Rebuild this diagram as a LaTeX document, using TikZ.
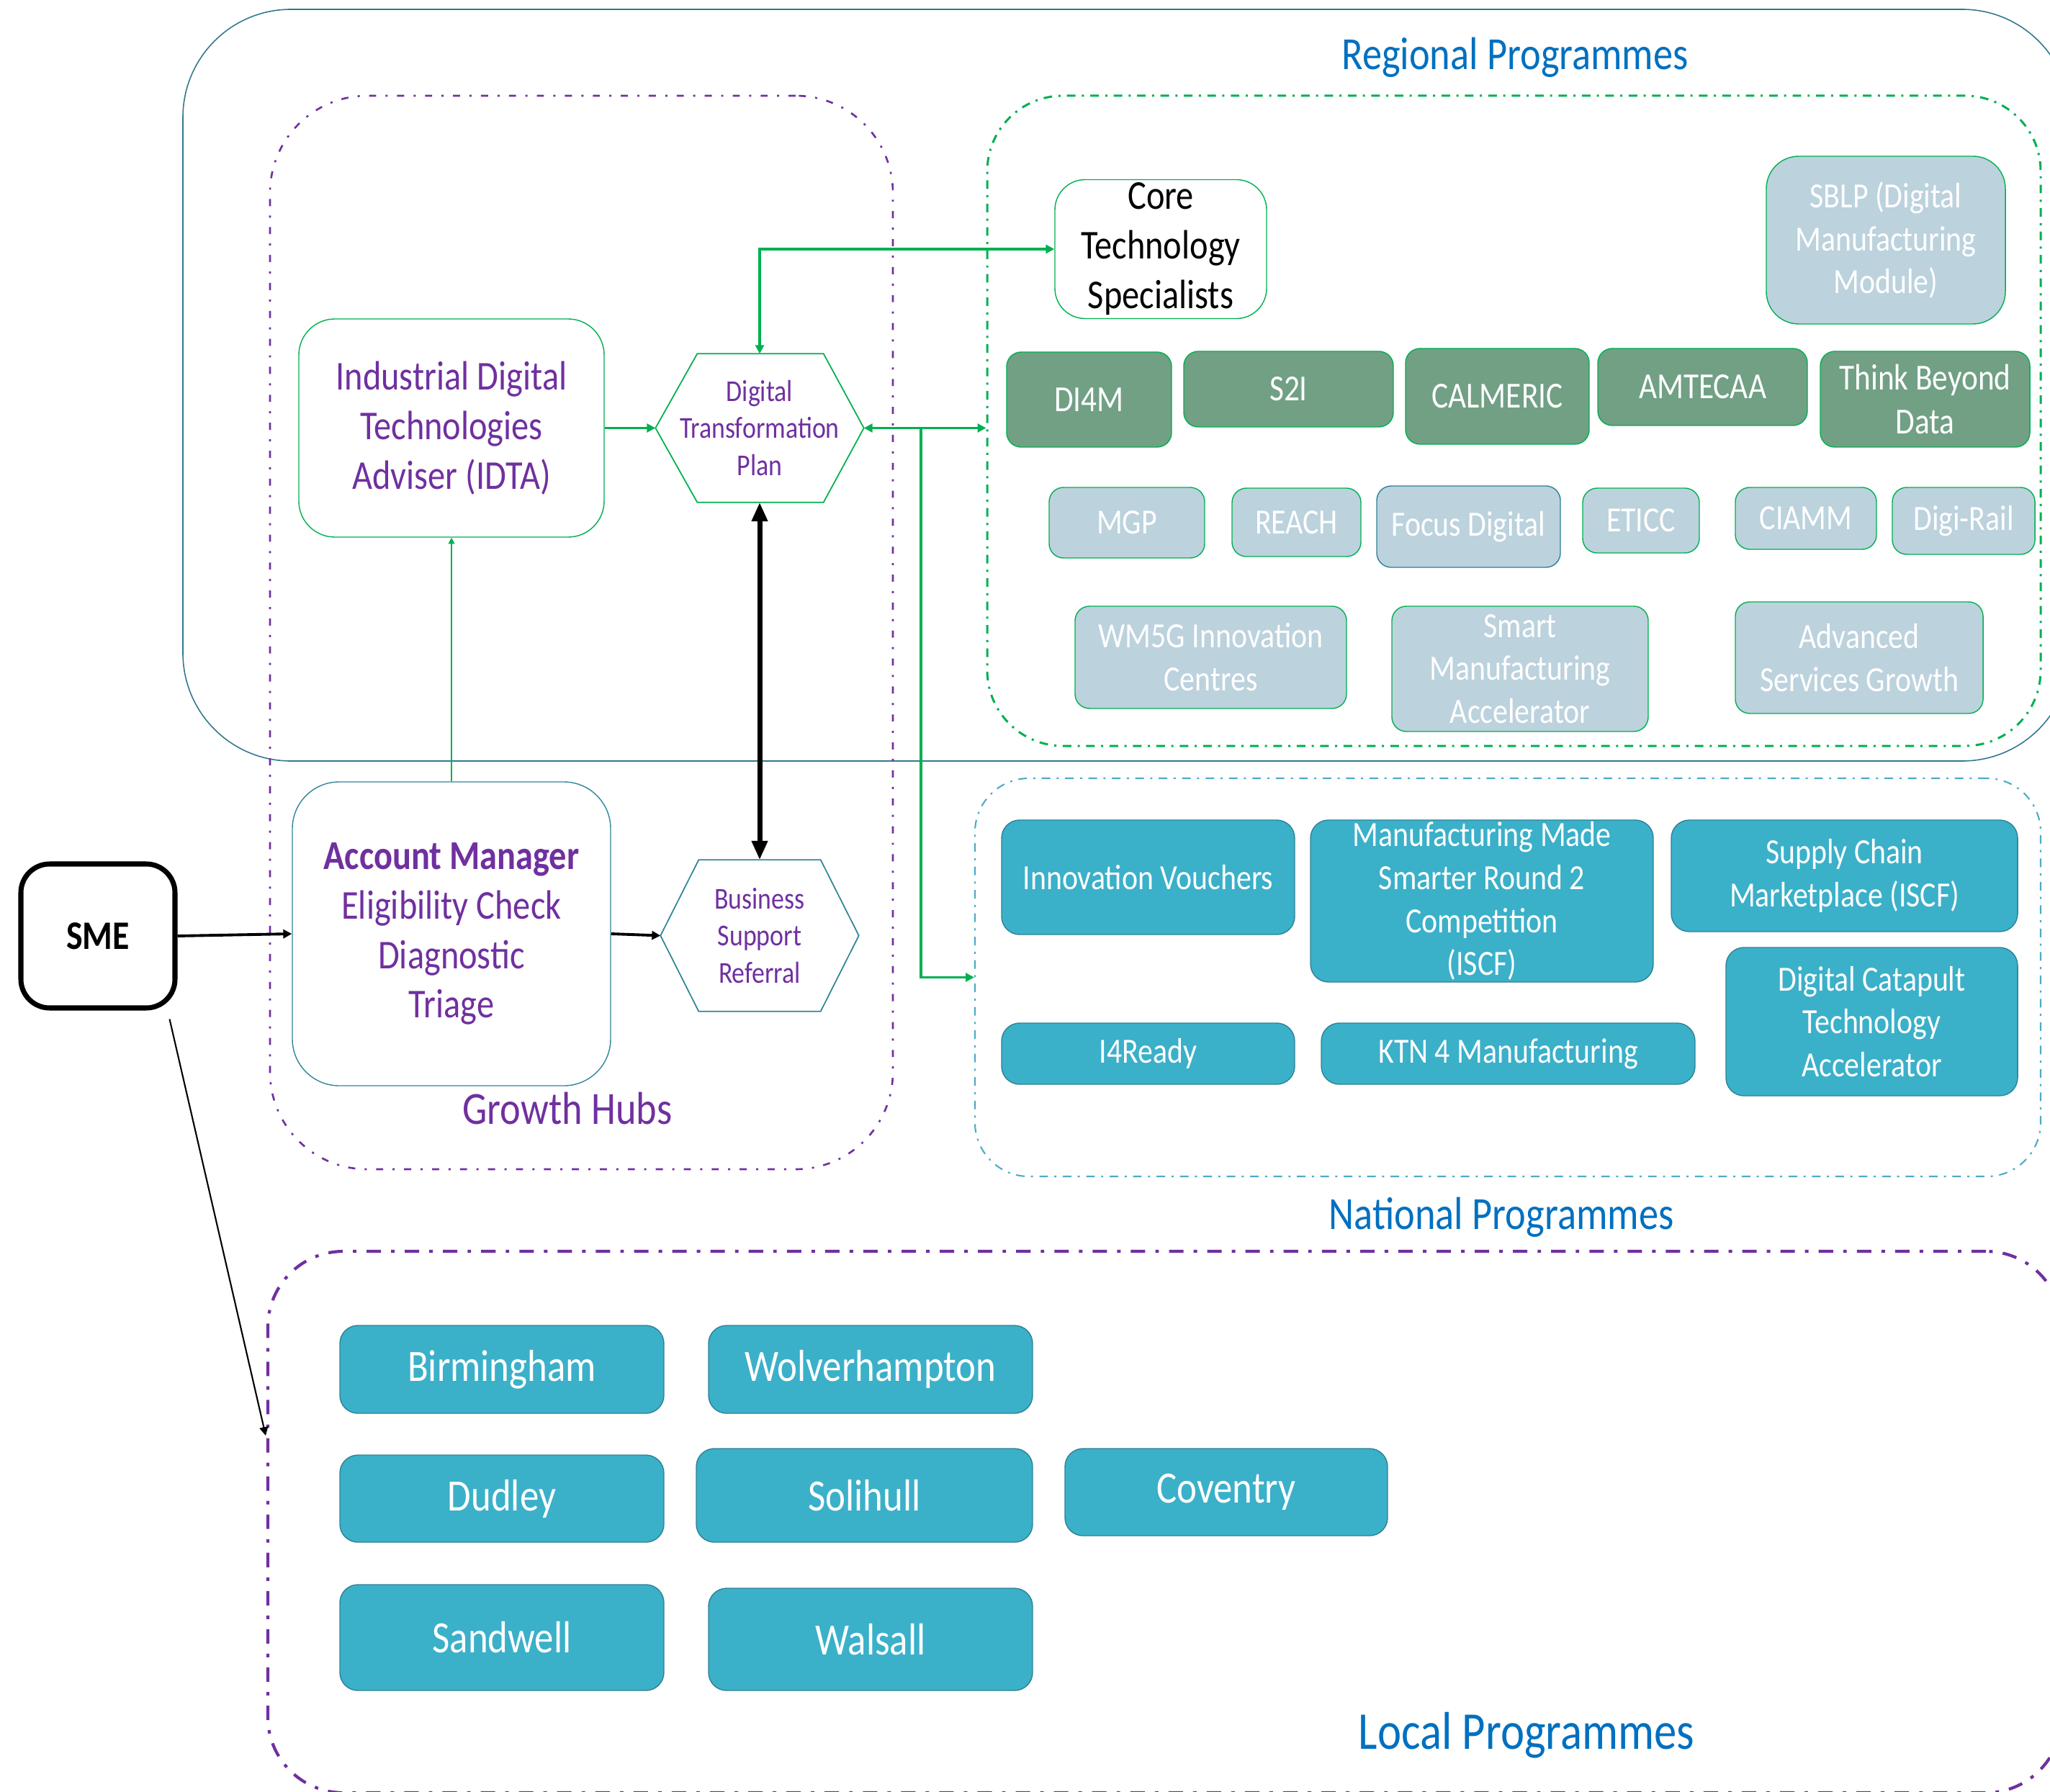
\documentclass[tikz,border=0pt]{standalone}
\usepackage{fontspec}
\setmainfont{Carlito}[FakeStretch=0.85]
\usetikzlibrary{arrows.meta}
\definecolor{hubpurple}{RGB}{112,48,160}
\definecolor{titleblue}{RGB}{0,112,192}
\definecolor{regteal}{RGB}{49,120,140}
\definecolor{progreen}{RGB}{0,176,80}
\definecolor{natdash}{RGB}{75,172,198}
\definecolor{sagefill}{RGB}{113,160,133}
\definecolor{mistfill}{RGB}{188,210,221}
\definecolor{natfill}{RGB}{59,176,201}
\definecolor{natedge}{RGB}{46,130,150}
\definecolor{amedge}{RGB}{49,133,155}

\begin{document}
\begin{tikzpicture}[
  >={Triangle[length=3.4pt,width=3.4pt]},
  dims/.style 2 args={minimum width=#1cm,minimum height=#2cm},
  zonebox/.style={inner sep=0pt},
  hubzone/.style={zonebox,draw=hubpurple,line width=0.75pt,
              dash pattern=on 2.8pt off 3.7pt on 0.85pt off 3.7pt,rounded corners=1.35cm},
  regzone/.style={zonebox,draw=progreen,line width=0.85pt,
              dash pattern=on 3.4pt off 2.5pt on 0.85pt off 2.5pt,rounded corners=1.05cm},
  natzone/.style={zonebox,draw=natdash,line width=0.6pt,
              dash pattern=on 3.4pt off 2.5pt on 0.85pt off 2.5pt,rounded corners=0.75cm},
  localzone/.style={zonebox,draw=hubpurple,line width=1.2pt,
              dash pattern=on 5.7pt off 4pt on 1.4pt off 4pt,rounded corners=1.05cm},
  title/.style={text=titleblue,font=\fontsize{18.2}{22}\selectfont},
  hubbox/.style={draw=progreen,fill=white,text=hubpurple,rounded corners=0.5cm,
              align=center,inner sep=1pt,font=\fontsize{16.2}{19.6}\selectfont},
  hexnode/.style={inner sep=0pt,text=hubpurple,align=center,font=\fontsize{12}{14.6}\selectfont},
  sage/.style={draw=progreen,fill=sagefill,text=white,rounded corners=0.2cm,
              align=center,inner sep=0.5pt,font=\fontsize{14.5}{17.5}\selectfont},
  mist/.style={draw=progreen,fill=mistfill,text=white,rounded corners=0.2cm,
              align=center,inner sep=0.5pt,font=\fontsize{14}{17}\selectfont},
  natbox/.style={draw=natedge,fill=natfill,text=white,rounded corners=0.25cm,
              align=center,inner sep=0.5pt,font=\fontsize{14}{17}\selectfont},
  citybox/.style={natbox,font=\fontsize{17.7}{21}\selectfont},
  greenlink/.style={progreen,line width=0.95pt},
  blacklink/.style={black,line width=1.1pt}
]
  \useasboundingbox (0,0) rectangle (28.47,-24.89);
  \clip (0,0) rectangle (28.47,-24.89);

  % programme zones
  \node[zonebox,draw=regteal,line width=0.45pt,rounded corners=1.5cm,dims={26.21}{10.44}] (regional) at (15.645,-5.35) {};
  \node[hubzone,dims={8.65}{14.91}] (hubs) at (8.075,-8.785) {};
  \node[regzone,dims={14.63}{9.03}] (reginner) at (21.025,-5.845) {};
  \node[natzone,dims={14.80}{5.53}] (national) at (20.94,-13.575) {};
  \node[localzone,dims={24.91}{7.52}] (local) at (16.175,-21.14) {};

  \node[title] (regtitle) at (21.04,-0.80) {Regional Programmes};
  \node[title] (nattitle) at (20.85,-16.91) {National Programmes};
  \node[title,font=\fontsize{21}{25}\selectfont] (loctitle) at (21.20,-24.10) {Local Programmes};
  \node[text=hubpurple,font=\fontsize{18.2}{22}\selectfont] (hubtitle) at (7.88,-15.40) {Growth Hubs};

  % growth hub
  \node[draw=black,line width=2pt,rounded corners=0.4cm,dims={2.14}{2.00},
        font=\fontsize{16}{19}\selectfont\bfseries] (sme) at (1.36,-13.00) {SME};
  \node[hubbox,draw=amedge,rounded corners=0.65cm,dims={4.42}{4.22}] (am) at (6.27,-12.97)
       {{\bfseries Account Manager}\\Eligibility Check\\Diagnostic\\Triage};
  \node[hubbox,dims={4.24}{3.03}] (idta) at (6.27,-5.945) {Industrial Digital\\Technologies\\Adviser (IDTA)};

  \node[hexnode,dims={2.88}{2.05}] (dtp) at (10.55,-5.945) {Digital\\Transformation\\Plan};
  \draw[progreen,line width=0.5pt] (dtp.west) -- ([xshift=5.8mm]dtp.north west) -- ([xshift=-5.6mm]dtp.north east)
     -- (dtp.east) -- ([xshift=-5.6mm]dtp.south east) -- ([xshift=5.8mm]dtp.south west) -- cycle;
  \node[hexnode,dims={2.74}{2.09}] (bsr) at (10.55,-12.995) {Business\\Support\\Referral};
  \draw[amedge,line width=0.5pt] (bsr.west) -- ([xshift=5.3mm]bsr.north west) -- ([xshift=-5.3mm]bsr.north east)
     -- (bsr.east) -- ([xshift=-5.3mm]bsr.south east) -- ([xshift=5.3mm]bsr.south west) -- cycle;

  % regional
  \node[hubbox,text=black,rounded corners=0.42cm,dims={2.94}{1.93}] (core) at (16.12,-3.46) {Core\\Technology\\Specialists};
  \node[mist,rounded corners=0.45cm,dims={3.32}{2.33}] (sblp) at (26.19,-3.335) {SBLP (Digital\\Manufacturing\\Module)};

  \node[sage,dims={2.29}{1.32}] (di4m) at (15.125,-5.55) {DI4M};
  \node[sage,dims={2.91}{1.05}] (s2i) at (17.895,-5.405) {S2I};
  \node[sage,dims={2.55}{1.33}] (calmeric) at (20.795,-5.505) {CALMERIC};
  \node[sage,dims={2.91}{1.07}] (amtecaa) at (23.645,-5.375) {AMTECAA};
  \node[sage,dims={2.91}{1.33}] (think) at (26.735,-5.545) {Think Beyond\\Data};

  \node[mist,dims={2.16}{0.98}] (mgp) at (15.65,-7.26) {MGP};
  \node[mist,dims={1.79}{0.95}] (reach) at (18.005,-7.255) {REACH};
  \node[mist,draw=natedge,dims={2.55}{1.13}] (focus) at (20.395,-7.315) {Focus Digital};
  \node[mist,dims={1.62}{0.90}] (eticc) at (22.79,-7.23) {ETICC};
  \node[mist,dims={1.96}{0.86}] (ciamm) at (25.08,-7.20) {CIAMM};
  \node[mist,dims={1.98}{0.93}] (digirail) at (27.27,-7.235) {Digi-Rail};

  \node[mist,dims={3.77}{1.42}] (wm5g) at (16.815,-9.13) {WM5G Innovation\\Centres};
  \node[mist,dims={3.56}{1.74}] (sma) at (21.11,-9.29) {Smart\\Manufacturing\\Accelerator};
  \node[mist,dims={3.44}{1.55}] (asg) at (25.82,-9.135) {Advanced\\Services Growth};

  % national
  \node[natbox,dims={4.07}{1.59}] (vouchers) at (15.945,-12.185) {Innovation Vouchers};
  \node[natbox,dims={4.76}{2.25}] (mms) at (20.58,-12.515) {Manufacturing Made\\Smarter Round 2\\Competition\\(ISCF)};
  \node[natbox,dims={4.81}{1.55}] (supply) at (25.615,-12.165) {Supply Chain\\Marketplace (ISCF)};
  \node[natbox,dims={4.05}{2.06}] (catapult) at (25.995,-14.19) {Digital Catapult\\Technology\\Accelerator};
  \node[natbox,dims={4.07}{0.85}] (i4ready) at (15.945,-14.635) {I4Ready};
  \node[natbox,dims={5.19}{0.85}] (ktn) at (20.945,-14.635) {KTN 4 Manufacturing};

  % local
  \node[citybox,dims={4.50}{1.22}] (birmingham) at (6.97,-19.02) {Birmingham};
  \node[citybox,dims={4.50}{1.22}] (wolverhampton) at (12.09,-19.02) {Wolverhampton};
  \node[citybox,dims={4.50}{1.21}] (dudley) at (6.97,-20.815) {Dudley};
  \node[citybox,dims={4.67}{1.30}] (solihull) at (12.005,-20.77) {Solihull};
  \node[citybox,dims={4.48}{1.21}] (coventry) at (17.03,-20.725) {Coventry};
  \node[citybox,dims={4.50}{1.47}] (sandwell) at (6.97,-22.745) {Sandwell};
  \node[citybox,dims={4.50}{1.42}] (walsall) at (12.09,-22.77) {Walsall};

  \coordinate (localin) at (3.69,-19.94);
  \coordinate (split) at (12.79,-5.945);

  % links
  \draw[->,blacklink] (sme.east) -- (am.west);
  \draw[->,blacklink] (am.east) -- (bsr.west);
  \draw[->,black,line width=0.6pt] ([xshift=-1.1mm,yshift=-1.2mm]sme.south east) -- (localin);
  \draw[->,progreen,line width=0.5pt,>={Triangle[length=2.5pt,width=2.5pt]}] (am.north) -- (idta.south);
  \draw[->,progreen,line width=0.8pt] (idta.east) -- (dtp.west);
  \draw[<->,black,line width=2pt,>={Triangle[length=7.5pt,width=6pt]}] (dtp.south) -- (bsr.north);
  \draw[<->,greenlink] (core.west) -| (dtp.north);
  \draw[<->,greenlink] (dtp.east) -- (reginner.west |- dtp.east);
  \draw[->,greenlink] (split) |- (national.west);
\end{tikzpicture}
\end{document}
